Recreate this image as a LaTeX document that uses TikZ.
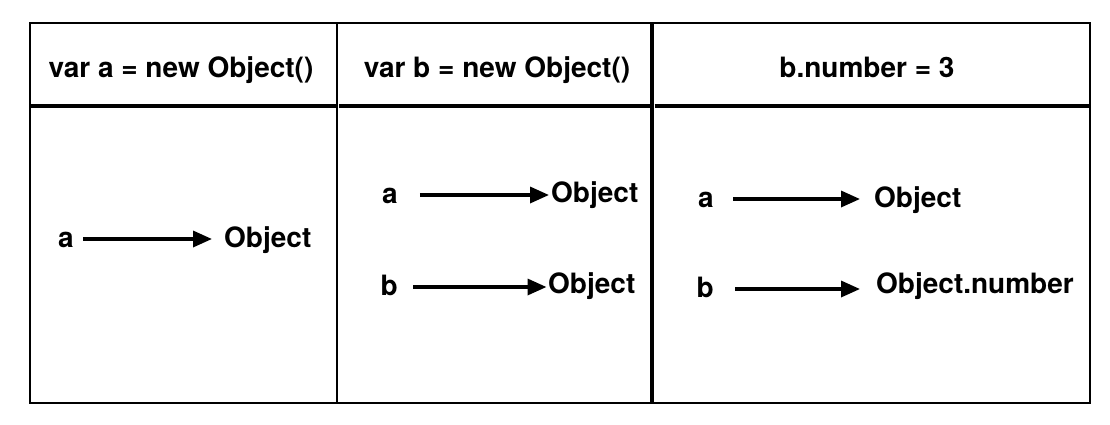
\documentclass[tikz,border=0pt]{standalone}
\usepackage{fontspec}
\setmainfont{TeX Gyre Heros}
\usetikzlibrary{arrows.meta}
\begin{document}
\begin{tikzpicture}[x=1pt,y=-1pt,
  hdr/.style={font=\fontsize{28}{34}\selectfont\bfseries, inner sep=0, anchor=base},
  lbl/.style={font=\fontsize{28}{34}\selectfont\bfseries, inner sep=0, anchor=base west, text height=16pt, text depth=0pt},
  ptr/.style={line width=3.4pt, -{Triangle[length=19pt,width=16pt]}},
  frame/.style={line width=2pt},
  thickline/.style={line width=4pt}]
\useasboundingbox (0,0) rectangle (1110,424);
% table frame
\draw[frame] (29.8,23) rectangle (1089.5,402.5);
\draw[frame] (337,23) -- (337,402.5);
\draw[thickline] (652,23) -- (652,402.5);
\draw[thickline] (30.8,105.5) -- (336,105.5);
\draw[thickline] (339,105.5) -- (649.5,105.5);
\draw[thickline] (654.5,105.5) -- (1088.5,105.5);
% headers
\node[hdr] (h1) at (181,77) {var a = new Object()};
\node[hdr] (h2) at (497,77) {var b = new Object()};
\node[hdr] (h3) at (867,77) {b.number = 3};
% panel 1
\node[lbl] (p1a) at (58,247) {a};
\node[lbl] (p1o) at (224,247) {Object};
\draw[ptr, shorten <=9.5pt, shorten >=12pt] (p1a.east) -- (p1a.east -| p1o.west);
% panel 2
\node[lbl] (p2a) at (382,203) {a};
\node[lbl] (p2oa) at (551,202) {Object};
\draw[ptr, shorten <=22pt, shorten >=2pt] (p2a.east) -- (p2a.east -| p2oa.west);
\node[lbl] (p2b) at (380.5,295) {b};
\node[lbl] (p2ob) at (548,293) {Object};
\draw[ptr, shorten <=15pt, shorten >=1.5pt] (p2b.east) -- (p2b.east -| p2ob.west);
% panel 3
\node[lbl] (p3a) at (698,207) {a};
\node[lbl] (p3oa) at (874,207) {Object};
\draw[ptr, shorten <=19.5pt, shorten >=14pt] (p3a.east) -- (p3a.east -| p3oa.west);
\node[lbl] (p3b) at (696.5,297) {b};
\node[lbl] (p3ob) at (876,293) {Object.number};
\draw[ptr, shorten <=21pt, shorten >=16pt] (p3b.east) -- (p3b.east -| p3ob.west);
\end{tikzpicture}
\end{document}
